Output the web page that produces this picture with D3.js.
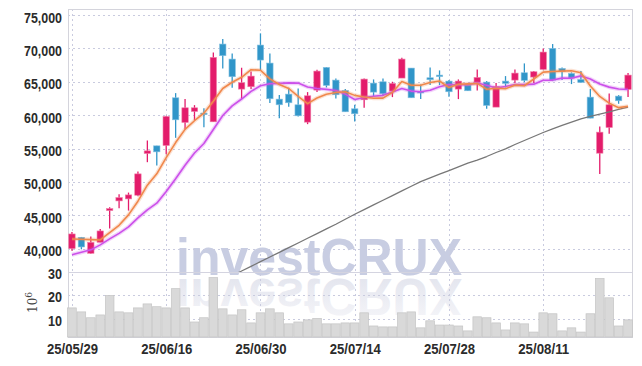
<!DOCTYPE html>
<html>
<head>
<meta charset="utf-8">
<script src="https://cdn.jsdelivr.net/npm/d3@7"></script>
<style>
body{margin:0;background:#fff}
svg{display:block}
.ax text{font-family:"Liberation Sans Narrow","Arial Narrow","Liberation Sans",sans-serif;font-size:14px;font-weight:bold;fill:#2b2b2b}
.ax path,.ax line{display:none}
</style>
</head>
<body>
<svg id="chart" width="642" height="366"></svg>
<script>
// trading days (KRX), yy/mm/dd
const dates = ["25/05/29","25/05/30","25/06/02","25/06/04","25/06/05","25/06/09","25/06/10","25/06/11","25/06/12","25/06/13",
  "25/06/16","25/06/17","25/06/18","25/06/19","25/06/20","25/06/23","25/06/24","25/06/25","25/06/26","25/06/27",
  "25/06/30","25/07/01","25/07/02","25/07/03","25/07/04","25/07/07","25/07/08","25/07/09","25/07/10","25/07/11",
  "25/07/14","25/07/15","25/07/16","25/07/17","25/07/18","25/07/21","25/07/22","25/07/23","25/07/24","25/07/25",
  "25/07/28","25/07/29","25/07/30","25/07/31","25/08/01","25/08/04","25/08/05","25/08/06","25/08/07","25/08/08",
  "25/08/11","25/08/12","25/08/13","25/08/14","25/08/18","25/08/19","25/08/20","25/08/21","25/08/22","25/08/25"];

const open  = [40000,41700,39300,40950,45700,47150,47450,48000,54250,55400,
  55450,62600,58900,60550,60300,59000,70650,68400,63900,64250,
  70500,67800,62400,63150,61550,58950,63750,67150,65250,63700,
  60950,62300,64800,65000,63600,65550,67050,63550,65600,66000,
  65100,63900,64500,64900,64950,61200,65100,65250,66350,65700,
  66850,70000,67000,66250,65350,62700,54300,58150,62850,63850];
const high  = [42500,41750,41800,42950,46200,48150,48400,51550,56200,55400,
  59900,63300,62400,61500,61050,69400,71400,69250,67100,66550,
  72250,69250,63000,64100,64000,63450,66800,67200,65500,63900,
  61550,65500,65350,65500,65000,68600,67050,64600,67150,66700,
  65250,65350,64550,66850,65100,64800,65850,66850,67750,66600,
  70000,70650,67150,66400,66600,63900,58300,63250,63000,66300];
const low   = [39700,39900,39250,40950,43000,46050,45700,47850,52950,52450,
  54150,56600,57800,59200,58200,59000,67000,64100,62400,63900,
  66750,61800,59550,61250,59800,58650,63450,64150,62500,60500,
  59050,61100,62850,62850,62700,65550,62600,62400,64500,64500,
  62750,62400,63600,63700,60950,61200,64150,64800,64950,64800,
  66850,65100,65250,64650,64800,59550,51200,57200,61700,62700];
const close = [42200,40250,40950,42650,46000,47650,48050,51200,54650,54500,
  59800,59300,61100,61100,60200,68650,68900,65750,64850,65850,
  68250,62450,61550,61850,59900,62900,66600,64450,63050,60500,
  60200,65400,63450,63200,64750,68400,62600,63400,65300,65850,
  63500,65100,63650,65650,61450,64300,64750,66300,65200,66500,
  69450,65250,66550,65550,64900,59550,57450,61550,62150,66000];

// volume, millions of shares
const volume = [14.7,13.0,10.5,11.7,20.0,13.0,12.6,14.7,16.4,15.2,
  14.7,22.9,14.7,8.7,10.5,27.6,14.3,11.7,13.9,8.3,
  12.6,14.3,12.6,7.9,8.7,9.6,10.2,7.9,7.9,8.3,
  8.3,12.6,7.0,6.6,6.6,12.6,13.0,6.2,9.2,7.4,
  7.4,7.0,4.9,10.9,10.5,8.3,5.3,8.3,7.9,4.4,
  12.6,12.2,4.9,6.2,4.4,12.2,27.2,19.0,7.0,9.6];

// moving averages as drawn (orange short, purple mid, gray long)
const maShort = [41450,41400,41350,41300,42410,43500,45060,47110,49510,51210,
  53640,55890,57870,59160,60300,62070,63990,64920,65670,66800,
  66720,65430,64590,63990,62800,61730,62560,63140,63380,63500,
  62960,62720,62520,62550,63400,65040,64480,64470,64890,65110,
  64130,64630,64680,64750,63870,64030,63960,64490,64400,65410,
  66440,66540,66590,66660,66340,64360,62800,61800,61120,61340];
const maMid = [39070,39450,39820,40570,41470,42290,43260,44610,45810,46810,
  48570,50475,52490,54335,55755,57855,59940,61395,62415,63550,
  64395,64710,64755,64830,64800,64225,63995,63865,63685,63150,
  62345,62640,62830,62965,63450,64000,63600,63495,63720,64255,
  64585,64555,64575,64820,64490,64080,64295,64585,64575,64640,
  65235,65250,65545,65535,65880,65405,64675,64195,63910,63850];
const maLong = [null,null,null,null,null,null,null,null,null,null,
  null,null,null,null,33800,34550,35250,35950,36650,37350,
  38050,38750,39450,40150,40850,41550,42250,42950,43650,44400,
  45150,45850,46550,47250,47950,48650,49350,50050,50600,51150,
  51700,52250,52800,53250,53800,54400,54950,55600,56200,56800,
  57400,57950,58450,58950,59450,59800,60150,60500,60850,61200];

const priceTicks = [40000,45000,50000,55000,60000,65000,70000,75000];
const volTicks = [10,20,30];
const dateTicks = dates.filter((d,i)=>i%10==0);

const L=68, R=632, T=9, PB=272, VB=337;
const svg = d3.select("#chart");
const defs = svg.append("defs");
defs.append("clipPath").attr("id","pclip").append("rect")
  .attr("x",L).attr("y",T).attr("width",R-L).attr("height",PB-T);
const grad = defs.append("linearGradient").attr("id","refl")
  .attr("x1",0).attr("y1",0).attr("x2",0).attr("y2",1);
grad.append("stop").attr("offset","0%").attr("stop-color","#f7f7fa");
grad.append("stop").attr("offset","100%").attr("stop-color","#e0e2ec");

const x = d3.scalePoint().domain(dates).range([L,R]).padding(0.42);
const y = d3.scaleLinear().domain([36500,75900]).range([PB,T]);
const yv = d3.scaleLinear().domain([2.3,30]).range([VB,PB]);
const step = x.step();

// watermark + mirrored copy
const wm = svg.append("g");
wm.append("g").attr("fill","#c8cde2").append("text").attr("id","wmark")
  .attr("x",176).attr("y",275)
  .attr("textLength",286).attr("lengthAdjust","spacingAndGlyphs")
  .style("font-family","'Liberation Sans',Arial,sans-serif").style("font-weight","bold")
  .style("font-size","52px").text("investCRUX");
wm.append("use").attr("href","#wmark")
  .attr("transform","translate(0,554) scale(1,-1)")
  .attr("fill","url(#refl)");

// grid
const grid = svg.append("g").attr("stroke","#c9cbdf").attr("stroke-dasharray","2,3");
grid.selectAll(".hg").data(priceTicks).enter().append("line")
  .attr("x1",L).attr("x2",R).attr("y1",d=>Math.round(y(d))+0.5).attr("y2",d=>Math.round(y(d))+0.5);
grid.selectAll(".vgl").data(volTicks.slice(0,2)).enter().append("line")
  .attr("x1",L).attr("x2",R).attr("y1",d=>Math.round(yv(d))+0.5).attr("y2",d=>Math.round(yv(d))+0.5);
grid.selectAll(".vg").data(dateTicks).enter().append("line")
  .attr("y1",T).attr("y2",VB).attr("x1",d=>Math.round(x(d))+0.5).attr("x2",d=>Math.round(x(d))+0.5);

// frame
svg.append("rect").attr("x",L+0.5).attr("y",T+0.5).attr("width",R-L).attr("height",VB-T)
  .attr("fill","none").attr("stroke","#d4d4dc");
svg.append("line").attr("x1",L).attr("x2",R).attr("y1",Math.round(yv(30))+0.5).attr("y2",Math.round(yv(30))+0.5)
  .attr("stroke","#d4d4e0");

// volume bars
svg.append("g").selectAll("rect").data(volume).enter().append("rect")
  .attr("x",(d,i)=>x(dates[i])-step/2+0.4)
  .attr("width",step-0.8)
  .attr("y",d=>yv(d))
  .attr("height",d=>VB-yv(d))
  .attr("fill","#d9d9d9").attr("stroke","#c4c4c4").attr("stroke-width",0.7);

// candles
const up="#e31c6b", dn="#3196c9";
const cg = svg.append("g").attr("clip-path","url(#pclip)");
const cs = cg.selectAll("g").data(dates).enter().append("g");
cs.append("line")
  .attr("x1",d=>x(d)).attr("x2",d=>x(d))
  .attr("y1",(d,i)=>y(high[i])).attr("y2",(d,i)=>y(low[i]))
  .attr("stroke",(d,i)=>close[i]>=open[i]?up:dn).attr("stroke-width",1.3);
cs.append("rect")
  .attr("x",d=>x(d)-3.2).attr("width",6.4)
  .attr("y",(d,i)=>y(Math.max(open[i],close[i])))
  .attr("height",(d,i)=>Math.max(1.5,Math.abs(y(open[i])-y(close[i]))))
  .attr("fill",(d,i)=>close[i]>=open[i]?up:dn)
  .attr("stroke",(d,i)=>close[i]>=open[i]?"#f07fa8":"#86c2e2").attr("stroke-width",0.6);

// moving average lines
function maLine(vals,color,w,halo){
  const ln = d3.line().defined(v=>v!=null).x((v,i)=>x(dates[i])).y(v=>y(v));
  if(halo) cg.append("path").attr("d",ln(vals)).attr("fill","none")
    .attr("stroke",color).attr("stroke-opacity",0.25).attr("stroke-width",w+2.5).attr("stroke-linejoin","round");
  cg.append("path").attr("d",ln(vals)).attr("fill","none")
    .attr("stroke",color).attr("stroke-width",w).attr("stroke-linejoin","round");
}
maLine(maLong,"#777777",1.3,false);
maLine(maMid,"#cc50ea",1.6,true);
maLine(maShort,"#f0884c",1.6,true);

// axes
const fmt = d3.format(",");
const ay = svg.append("g").attr("class","ax").attr("transform","translate(62,0)")
  .call(d3.axisLeft(y).tickValues(priceTicks).tickFormat(fmt).tickSize(0).tickPadding(0));
ay.selectAll("text").attr("dy",7).attr("textLength",38).attr("lengthAdjust","spacingAndGlyphs");

const ax = svg.append("g").attr("class","ax").attr("transform","translate(0,354)")
  .call(d3.axisBottom(x).tickValues(dateTicks).tickSize(0).tickPadding(0));
ax.selectAll("text").attr("dy",0).attr("y",0).attr("textLength",51).attr("lengthAdjust","spacingAndGlyphs");

const unit = svg.append("text").attr("transform","translate(37,313) rotate(-90)")
  .style("font-family","'DejaVu Serif',serif").style("font-size","12px").style("fill","#444");
unit.append("tspan").text("10");
unit.append("tspan").attr("dy",-5).style("font-size","9px").text("6");

// volume scale labels
volTicks.forEach(v=>{
  svg.append("text").attr("x",62).attr("y",yv(v)+7).attr("text-anchor","end")
    .attr("font-family","Liberation Sans, Arial, sans-serif").attr("font-weight","bold")
    .attr("font-size",14).attr("fill","#2b2b2b")
    .attr("textLength",14).attr("lengthAdjust","spacingAndGlyphs")
    .text(String(v));
});
</script>
</body>
</html>
